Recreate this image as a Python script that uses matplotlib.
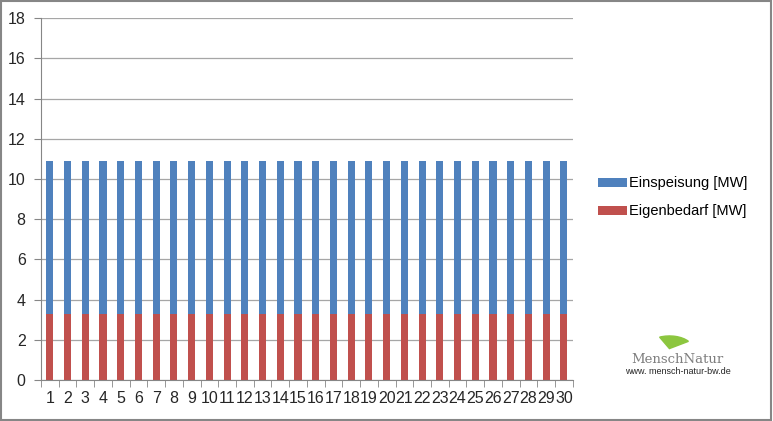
import matplotlib.pyplot as plt
import matplotlib.patches as mpatches
import numpy as np

# Daten
tage = list(range(1, 31))
eigenbedarf = [3.3] * 30
einspeisung = [7.6] * 30

fig = plt.figure(figsize=(7.73, 4.21), dpi=100)
ax = fig.add_axes([0.053, 0.097, 0.688, 0.86])

farbe_blau = "#4f81bd"
farbe_rot = "#c0504d"
x = np.arange(len(tage))
ax.bar(x, eigenbedarf, width=0.4, color=farbe_rot, label="Eigenbedarf [MW]", zorder=2)
ax.bar(x, einspeisung, width=0.4, bottom=eigenbedarf, color=farbe_blau,
       label="Einspeisung [MW]", zorder=2)

ax.set_xlim(-0.5, len(tage) - 0.5)
ax.set_ylim(0, 18)
ax.set_yticks(range(0, 19, 2))
ax.set_xticks(x)
ax.set_xticklabels([str(t) for t in tage])
ax.set_xticks(np.arange(-0.5, len(tage), 1), minor=True)
ax.tick_params(axis="x", which="major", length=0, pad=8)
ax.tick_params(axis="x", which="minor", length=5, color="#868686", direction="out")
ax.tick_params(axis="y", length=5, color="#868686", pad=6)
ax.tick_params(labelsize=11.5, labelcolor="#262626")
for lbl in ax.get_xticklabels() + ax.get_yticklabels():
    lbl.set_family("Liberation Sans")

ax.grid(axis="y", color="#a6a6a6", linewidth=0.9, zorder=0)
for s in ["top", "right"]:
    ax.spines[s].set_visible(False)
for s in ["left", "bottom"]:
    ax.spines[s].set_color("#868686")

# Legende (Reihenfolge wie im Original)
h, l = ax.get_legend_handles_labels()
fig.legend(h[::-1], l[::-1], loc="upper left", bbox_to_anchor=(0.756, 0.612),
           frameon=False, handlelength=2.0, handleheight=0.6,
           handletextpad=0.15, labelspacing=0.95,
           prop={"family": "Liberation Sans", "size": 10.5})

# Logo
blatt = mpatches.Wedge((0.866, 0.172), 0.03, 35, 115, color="#8cc63f",
                       transform=fig.transFigure)
fig.patches.append(blatt)
fig.text(0.877, 0.147, "MenschNatur", ha="center", va="center", family="DejaVu Serif",
         fontsize=9.5, color="#7f7f7f")
fig.text(0.877, 0.118, "www. mensch-natur-bw.de", ha="center", va="center",
         fontsize=6.5, color="#262626", family="Liberation Sans")

# Rahmen
fig.patches.append(mpatches.Rectangle((0.001, 0.002), 0.997, 0.995, fill=False,
                                      edgecolor="#868686", linewidth=1.5,
                                      transform=fig.transFigure))

fig.savefig("out.png", dpi=100)
